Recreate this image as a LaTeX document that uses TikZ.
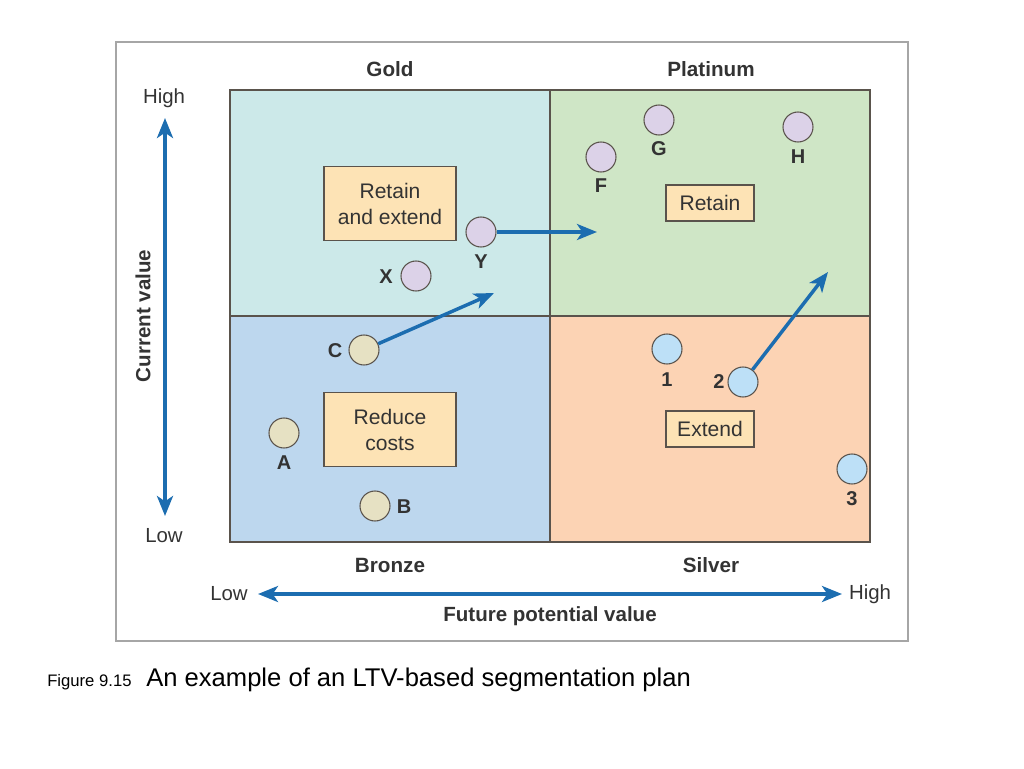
\documentclass[tikz,border=0pt]{standalone}
\usepackage{fontspec}
\setmainfont{Liberation Sans}
\usetikzlibrary{arrows.meta}

\definecolor{gold}{HTML}{CCE9E9}
\definecolor{platinum}{HTML}{CFE6C6}
\definecolor{bronze}{HTML}{BDD7EE}
\definecolor{silver}{HTML}{FCD3B4}
\definecolor{boxfill}{HTML}{FDE3B5}
\definecolor{dotpurple}{HTML}{DCD2E8}
\definecolor{dottan}{HTML}{E6E1C3}
\definecolor{dotblue}{HTML}{BDE0F7}
\definecolor{arrowblue}{HTML}{1C6DB0}
\definecolor{textgray}{HTML}{333333}
\definecolor{edgegray}{HTML}{5A534C}

\tikzset{
  quad/.style={draw=edgegray, line width=0.9pt},
  plan/.style={draw=edgegray, fill=boxfill, line width=0.9pt, inner sep=0pt, align=center, font=\fontsize{15.8}{19.5}\selectfont, text=textgray},
  dot/.style={circle, draw=edgegray, line width=0.8pt, minimum size=22.5pt, inner sep=0pt},
  tag/.style={font=\fontsize{15}{16}\selectfont\bfseries, text=textgray},
  axis/.style={font=\fontsize{15.3}{16}\selectfont, text=textgray},
  move/.style={arrowblue, line width=2.6pt, -{Stealth[length=15pt, width=12pt, inset=4pt]}},
}

\begin{document}
\begin{tikzpicture}[x=0.75pt, y=-0.75pt]
  \useasboundingbox (0,0) rectangle (1024,768);
  % frame
  \draw[gray!70, line width=0.9pt] (116,42) rectangle (908,641);
  % quadrants
  \filldraw[quad, fill=gold] (230,90) rectangle (550,316);
  \filldraw[quad, fill=platinum] (550,90) rectangle (870,316);
  \filldraw[quad, fill=bronze] (230,316) rectangle (550,542);
  \filldraw[quad, fill=silver] (550,316) rectangle (870,542);
  % segment names
  \node[tag, font=\fontsize{15.5}{16}\selectfont\bfseries] (gold) at (390,69) {Gold};
  \node[tag, font=\fontsize{15.5}{16}\selectfont\bfseries] (platinum) at (711,69) {Platinum};
  \node[tag, font=\fontsize{15.5}{16}\selectfont\bfseries] (bronze) at (390,565) {Bronze};
  \node[tag, font=\fontsize{15.5}{16}\selectfont\bfseries] (silver) at (711,565) {Silver};
  % plans
  \node[plan, minimum width=99pt, minimum height=55pt] (retext) at (390,203.5) {Retain\\and extend};
  \node[plan, minimum width=99pt, minimum height=55pt] (reduce) at (390,429.5) {Reduce\\costs};
  \node[plan, minimum width=66pt, minimum height=27pt] (retain) at (710,203) {Retain};
  \node[plan, minimum width=66pt, minimum height=27pt] (extend) at (710,429) {Extend};
  % customers
  \node[dot, fill=dotpurple] (F) at (601,157) {};
  \node[dot, fill=dotpurple] (G) at (659,120) {};
  \node[dot, fill=dotpurple] (H) at (798,127) {};
  \node[dot, fill=dotpurple] (Y) at (481,232) {};
  \node[dot, fill=dotpurple] (X) at (416,276) {};
  \node[dot, fill=dottan] (C) at (364,350) {};
  \node[dot, fill=dottan] (A) at (284,433) {};
  \node[dot, fill=dottan] (B) at (375,506) {};
  \node[dot, fill=dotblue] (one) at (667,349) {};
  \node[dot, fill=dotblue] (two) at (743,382) {};
  \node[dot, fill=dotblue] (three) at (852,469) {};
  % customer names
  \node[tag] (Flab) at (601,186) {F};
  \node[tag] (Glab) at (659,149) {G};
  \node[tag] (Hlab) at (798,157) {H};
  \node[tag] (Ylab) at (481,262) {Y};
  \node[tag] (Xlab) at (386,277) {X};
  \node[tag] (Clab) at (335,351) {C};
  \node[tag] (Alab) at (284,463) {A};
  \node[tag] (Blab) at (404,507) {B};
  \node[tag] (onelab) at (667,380) {1};
  \node[tag] (twolab) at (719,382) {2};
  \node[tag] (threelab) at (852,499) {3};
  % moves
  \coordinate (Yto) at (597,232);
  \coordinate (Cto) at (494,293);
  \coordinate (twoto) at (828,272);
  \draw[move] (Y) -- (Yto);
  \draw[move] (C) -- (Cto);
  \draw[move] (two) -- (twoto);
  % axes
  \node[axis] (vhigh) at (164,98) {High};
  \node[axis] (vlow) at (164,536) {Low};
  \node[axis, font=\fontsize{15.4}{16}\selectfont\bfseries, rotate=90] (vname) at (143,316) {Current value};
  \node[axis] (hlow) at (229,594) {Low};
  \node[axis] (hhigh) at (870,594) {High};
  \node[axis, font=\fontsize{15.4}{16}\selectfont\bfseries] (hname) at (550,616) {Future potential value};
  \coordinate (vtop) at (165,118);
  \coordinate (vbot) at (165,516);
  \coordinate (hleft) at (258,594);
  \coordinate (hright) at (842,594);
  \draw[arrowblue, line width=2.6pt, {Stealth[length=15pt, width=12pt, inset=4pt]}-{Stealth[length=15pt, width=12pt, inset=4pt]}] (vtop) -- (vbot);
  \draw[arrowblue, line width=2.6pt, {Stealth[length=15pt, width=12pt, inset=4pt]}-{Stealth[length=15pt, width=12pt, inset=4pt]}] (hleft) -- (hright);
  % caption
  \node[font=\fontsize{12.5}{14}\selectfont, anchor=base west, inner sep=0pt] (fig) at (47,686) {Figure 9.15};
  \node[font=\fontsize{19.2}{22}\selectfont, anchor=base west, inner sep=0pt] (cap) at (146,686) {An example of an LTV-based segmentation plan};
\end{tikzpicture}
\end{document}
